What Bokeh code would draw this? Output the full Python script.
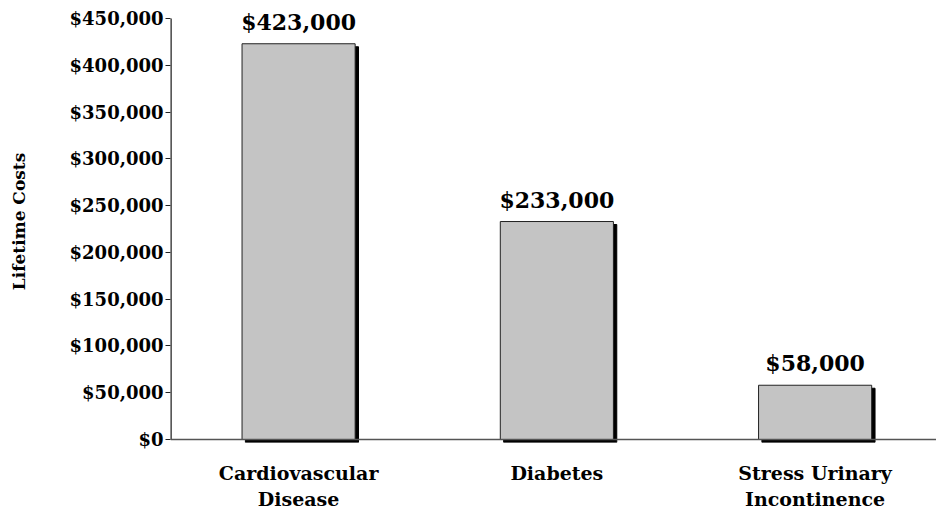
from bokeh.plotting import figure
from bokeh.models import FixedTicker, NumeralTickFormatter, ColumnDataSource, LabelSet, Span, Range1d
from bokeh.core.properties import value
from bokeh.embed import file_html
from bokeh.resources import INLINE

categories = ["Cardiovascular\nDisease", "Diabetes", "Stress Urinary\nIncontinence"]
costs = [423000, 233000, 58000]
value_labels = ["$423,000", "$233,000", "$58,000"]
y_ticks = [0, 50000, 100000, 150000, 200000, 250000, 300000, 350000, 400000, 450000]

FONT = "DejaVu Serif"
xs = list(range(len(categories)))
X0 = -0.496
Y_TOP = 469240

p = figure(frame_width=766, frame_height=442, output_backend="svg", toolbar_location=None,
           x_range=Range1d(X0, 2.47), y_range=Range1d(-3200, Y_TOP),
           min_border_left=170, min_border_right=0, min_border_top=0, min_border_bottom=30)
p.outline_line_color = None
p.grid.visible = False
p.background_fill_color = "white"

src = ColumnDataSource(dict(x=xs, top=costs, lab=value_labels,
                            sx=[x + 0.013 for x in xs],
                            stop=[c - 3200 for c in costs]))
# shadow
p.vbar(x="sx", top="stop", bottom=-3200, width=0.438, source=src,
       fill_color="black", line_color="black")
# bar
p.vbar(x="x", top="top", bottom=0, width=0.438, source=src,
       fill_color="#c4c4c4", line_color="#222222", line_width=1)

p.add_layout(Span(location=0, dimension="width", line_color="#555555", line_width=1.5))
# y axis line from 0 to top tick
p.segment(x0=[X0], y0=[0], x1=[X0], y1=[y_ticks[-1]], line_color="#222222", line_width=2.5)

labels = LabelSet(x="x", y="top", text="lab", source=src, text_align="center",
                  text_baseline="bottom", y_offset=9, text_font=value(FONT),
                  text_font_style="bold", text_font_size="22px", text_color="black")
p.add_layout(labels)

# y axis
p.yaxis.ticker = FixedTicker(ticks=y_ticks)
p.yaxis.formatter = NumeralTickFormatter(format="$0,0")
p.yaxis.minor_tick_line_color = None
p.yaxis.major_tick_in = 0
p.yaxis.major_tick_out = 5
p.yaxis.axis_line_color = None
p.yaxis.major_tick_line_color = "#222222"
p.yaxis.major_label_text_font = FONT
p.yaxis.major_label_text_font_style = "bold"
p.yaxis.major_label_text_font_size = "18px"
p.yaxis.major_label_text_color = "black"
p.yaxis.major_label_standoff = 2
p.yaxis.axis_label = "Lifetime Costs"
p.yaxis.axis_label_text_font = FONT
p.yaxis.axis_label_text_font_style = "bold"
p.yaxis.axis_label_text_font_size = "17px"
p.yaxis.axis_label_text_color = "black"
p.yaxis.axis_label_standoff = 38

# x axis
p.xaxis.ticker = FixedTicker(ticks=xs)
p.xaxis.major_label_overrides = {i: c for i, c in zip(xs, categories)}
p.xaxis.axis_line_color = None
p.xaxis.major_tick_line_color = None
p.xaxis.minor_tick_line_color = None
p.xaxis.major_label_text_font = FONT
p.xaxis.major_label_text_font_style = "bold"
p.xaxis.major_label_text_font_size = "19px"
p.xaxis.major_label_text_color = "black"
p.xaxis.major_label_standoff = 13

open("out.html", "w").write(file_html(p, INLINE))
